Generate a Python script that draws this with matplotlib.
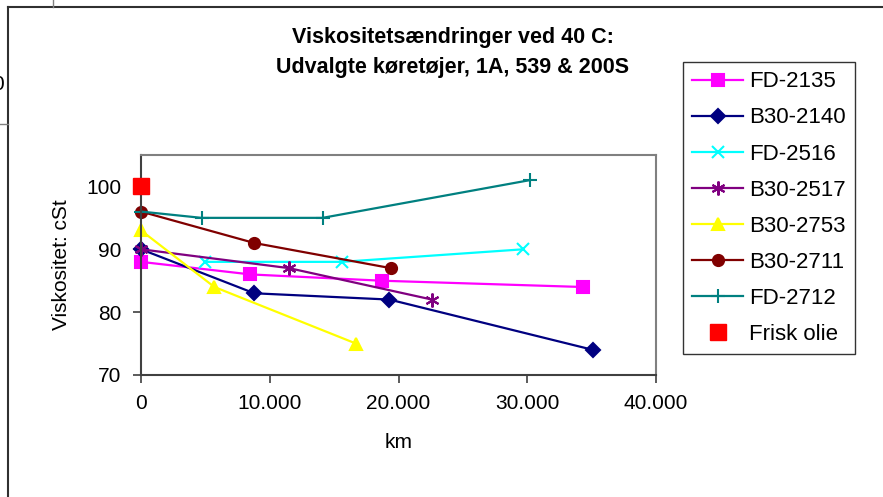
import matplotlib
matplotlib.use("Agg")
import matplotlib.pyplot as plt
from matplotlib.lines import Line2D
from matplotlib.ticker import FuncFormatter

plt.rcParams['font.family'] = ['Liberation Sans', 'DejaVu Sans']

# data (km, viskositet cSt)
fd2135_km = [0, 8500, 18700, 34300]
fd2135_v = [88, 86, 85, 84]
b2140_km = [0, 8800, 19300, 35100]
b2140_v = [90, 83, 82, 74]
fd2516_km = [5000, 15600, 29700]
fd2516_v = [88, 88, 90]
b2517_km = [0, 11500, 22600]
b2517_v = [90, 87, 82]
b2753_km = [0, 5700, 16700]
b2753_v = [93, 84, 75]
b2711_km = [0, 8800, 19400]
b2711_v = [96, 91, 87]
fd2712_km = [0, 4700, 14100, 30200]
fd2712_v = [96, 95, 95, 101]
frisk_km = [0]
frisk_v = [100]

series = [
    ("FD-2135", fd2135_km, fd2135_v, "#FF00FF", "s", 8),
    ("B30-2140", b2140_km, b2140_v, "#000080", "D", 7.5),
    ("FD-2516", fd2516_km, fd2516_v, "#00FFFF", "x", 9),
    ("B30-2517", b2517_km, b2517_v, "#800080", (6, 2, 0), 10),
    ("B30-2753", b2753_km, b2753_v, "#FFFF00", "^", 9),
    ("B30-2711", b2711_km, b2711_v, "#800000", "o", 8),
    ("FD-2712", fd2712_km, fd2712_v, "#008080", "+", 10),
]

fig = plt.figure(figsize=(8.83, 4.97), dpi=100)
ax = fig.add_axes([141/883, 1-375/497, (656-141)/883, (375-155)/497])

for name, x, y, c, m, ms in series:
    ax.plot(x, y, color=c, lw=1.6, marker=m, markersize=ms, mew=1.5,
            markerfacecolor=c, markeredgecolor=c, label=name, clip_on=False)
ax.plot(frisk_km, frisk_v, ls='none', marker='s', markersize=11,
        color='#FF0000', label='Frisk olie', clip_on=False, zorder=5)

ax.set_xlim(0, 40000)
ax.set_ylim(70, 105)
ax.set_xticks([0, 10000, 20000, 30000, 40000])
ax.set_yticks([70, 80, 90, 100])
ax.xaxis.set_major_formatter(FuncFormatter(lambda v, p: f"{int(v):,}".replace(",", ".")))
ax.tick_params(direction='out', length=6, width=1.2, labelsize=15, color='#404040', pad=8)
for s in ['left', 'bottom']:
    ax.spines[s].set_color('#404040')
    ax.spines[s].set_linewidth(1.5)
for s in ['top', 'right']:
    ax.spines[s].set_color('#808080')
    ax.spines[s].set_linewidth(1.5)

ax.set_xlabel("km", fontsize=15, labelpad=14)
ax.set_ylabel("Viskositet: cSt", fontsize=15, labelpad=11)

fig.text(453/883, 1-38/497, "Viskositetsændringer ved 40 C:", ha='center', va='center',
         fontsize=15.5, fontweight='bold')
fig.text(453/883, 1-67/497, "Udvalgte køretøjer, 1A, 539 & 200S", ha='center', va='center',
         fontsize=15.5, fontweight='bold')

leg = fig.legend(loc='upper left', bbox_to_anchor=(683/883, 1-62/497),
                 bbox_transform=fig.transFigure, fontsize=16, frameon=True,
                 fancybox=False, edgecolor='black', handlelength=2.3,
                 handletextpad=0.25, labelspacing=0.68, borderpad=0.42,
                 borderaxespad=0)
leg.get_frame().set_linewidth(1.0)

# chart border and leftover spreadsheet lines
fig.add_artist(Line2D([8/883, 8/883], [0, 1-7/497], color='#303030', lw=1.5))
fig.add_artist(Line2D([8/883, 1], [1-7/497, 1-7/497], color='#303030', lw=1.5))
fig.add_artist(Line2D([53/883, 53/883], [1-7/497, 1], color='#808080', lw=1))
fig.add_artist(Line2D([0, 8/883], [1-124/497, 1-124/497], color='#808080', lw=1))
fig.text(-2/883, 1-85/497, "0", ha='center', va='center', fontsize=15)

fig.savefig("out.png", dpi=100)
